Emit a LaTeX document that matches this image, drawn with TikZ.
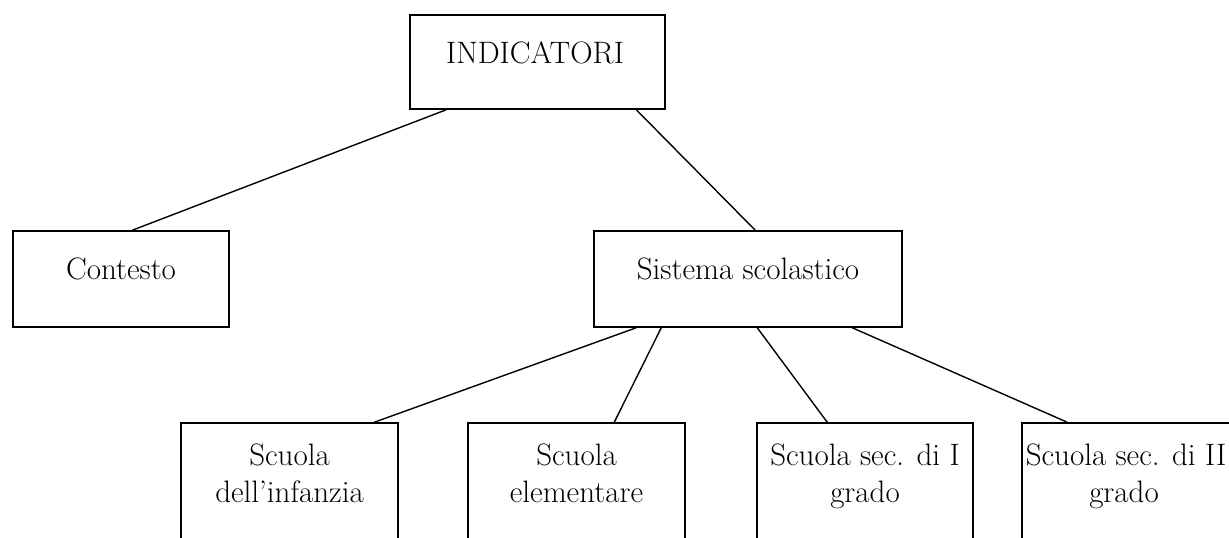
\documentclass[tikz,border=0pt]{standalone}
\usepackage{fontspec}
\setmainfont{Latin Modern Roman}
\usetikzlibrary{calc}
\tikzset{
  box/.style={draw=black, line width=1.5pt, rectangle, inner sep=0pt},
  txt/.style={anchor=base, inner sep=0pt, font=\fontsize{31}{37}\selectfont},
  link/.style={draw=black, line width=1.4pt}
}
\begin{document}
\begin{tikzpicture}[x=1pt,y=-1pt]
\useasboundingbox (0,0) rectangle (1229,538);
\clip (0,0) rectangle (1229,538);
% boxes
\node[box, minimum width=255pt, minimum height=94pt] (ind) at (537.5,62) {};
\node[box, minimum width=216pt, minimum height=96pt] (con) at (121,279) {};
\node[box, minimum width=308pt, minimum height=96pt] (sis) at (748,279) {};
\node[box, minimum width=217pt, minimum height=150pt] (inf) at (289.5,498) {};
\node[box, minimum width=217pt, minimum height=150pt] (ele) at (576.5,498) {};
\node[box, minimum width=216pt, minimum height=150pt] (sa) at (865,498) {};
\node[box, minimum width=220pt, minimum height=150pt] (sb) at (1132,498) {};
% texts
\node[txt] (indt) at (535,63) {INDICATORI};
\node[txt] (cont) at (121,279) {Contesto};
\node[txt] (sist) at (748,279) {Sistema scolastico};
\node[txt] (inft1) at (289.5,465) {Scuola};
\node[txt] (inft2) at (289.5,502) {dell’infanzia};
\node[txt] (elet1) at (576.5,465) {Scuola};
\node[txt] (elet2) at (576.5,502) {elementare};
\node[txt] (sat1) at (865,465) {Scuola sec. di I};
\node[txt] (sat2) at (865,502) {grado};
\node[txt] (sbt1) at (1126,465) {Scuola sec. di II};
\node[txt] (sbt2) at (1124,502) {grado};
% connectors
\draw[link] ($(ind.south west)+(37,0)$) -- ($(con.north west)+(120,0)$);
\draw[link] ($(ind.south west)+(227,0)$) -- ($(sis.north west)+(162,0)$);
\draw[link] ($(sis.south west)+(43,0)$) -- ($(inf.north west)+(194,0)$);
\draw[link] ($(sis.south west)+(68,0)$) -- ($(ele.north west)+(147,0)$);
\draw[link] ($(sis.south west)+(164,0)$) -- ($(sa.north west)+(71,0)$);
\draw[link] ($(sis.south west)+(259,0)$) -- ($(sb.north west)+(46,0)$);
\end{tikzpicture}
\end{document}
